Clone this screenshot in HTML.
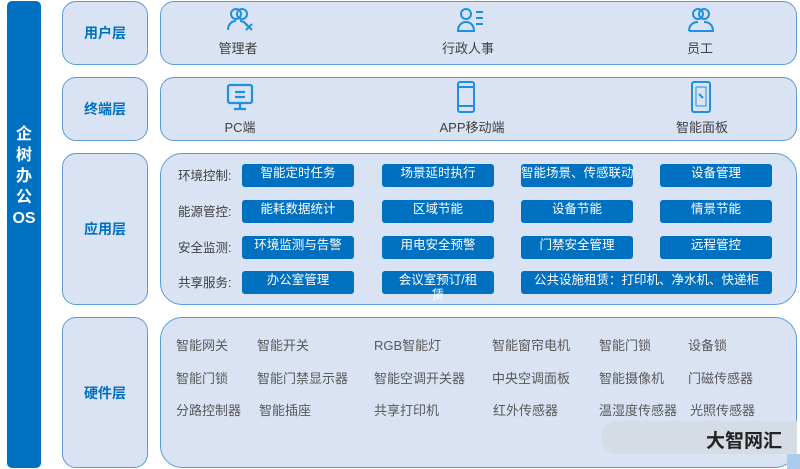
<!DOCTYPE html><html><head><meta charset="utf-8"><style>
body{margin:0;width:800px;height:469px;background:#fff;position:relative;overflow:hidden;font-family:"Liberation Sans","Noto Sans CJK SC",sans-serif}
.a{position:absolute;box-sizing:border-box}
.lb{background:#dae3f3;border:1.5px solid #5b9bd5;border-radius:14px;display:flex;align-items:center;justify-content:center;color:#0070c0;font-weight:bold;font-size:14px}
.cb{background:#dae3f3;border:1.5px solid #5b9bd5;border-radius:14px}
.bt{background:#0070c0;color:#fff;font-size:12.5px;border-radius:3px;width:112px;height:23px;text-align:center;line-height:19px;white-space:nowrap}
.rl{font-size:12.5px;color:#404040}
.hw{font-size:13px;color:#595959;white-space:nowrap}
.ic{font-size:13px;color:#404040;text-align:center;width:120px}
</style></head><body>
<div class="a" style="left:7px;top:1px;width:34px;height:467px;background:#0070c0;border-radius:5px;color:#fff;font-weight:bold;font-size:16px;text-align:center;padding-top:123px;line-height:21px">企<br>树<br>办<br>公<br>OS</div>

<div class="a lb" style="left:62px;top:1px;width:86px;height:64px">用户层</div>
<div class="a lb" style="left:62px;top:77px;width:86px;height:64px">终端层</div>
<div class="a lb" style="left:62px;top:153px;width:86px;height:152px">应用层</div>
<div class="a lb" style="left:62px;top:317px;width:86px;height:151px">硬件层</div>

<div class="a cb" style="left:160px;top:1px;width:637px;height:64px"></div>
<div class="a cb" style="left:160px;top:77px;width:637px;height:64px"></div>
<div class="a cb" style="left:160px;top:153px;width:637px;height:152px;border-radius:22px"></div>
<div class="a cb" style="left:160px;top:317px;width:637px;height:151px;border-radius:22px"></div>

<svg class="a" style="left:226px;top:6px" width="30" height="28" viewBox="0 0 30 28" fill="none" stroke="#1f8fe0" stroke-width="2"><circle cx="10" cy="8" r="5"/><circle cx="16" cy="8" r="5"/><path d="M2 24c0-6 4-9 8-9M14 15c3 0 6 2 7 5"/><path d="M20 18l6 6M26 18l-6 6"/></svg>
<svg class="a" style="left:456px;top:6px" width="30" height="28" viewBox="0 0 30 28" fill="none" stroke="#1f8fe0" stroke-width="2"><circle cx="10" cy="8" r="5"/><path d="M2 25c0-6 4-9 8-9s8 3 8 9z"/><path d="M20 6h7M20 12h7M20 18h7"/></svg>
<svg class="a" style="left:686px;top:6px" width="30" height="28" viewBox="0 0 30 28" fill="none" stroke="#1f8fe0" stroke-width="2"><circle cx="12" cy="8" r="5"/><circle cx="18" cy="8" r="5"/><path d="M3 25c0-6 4-9 9-9M18 16c5 0 9 3 9 9H3"/></svg>
<div class="a ic" style="left:178px;top:38px">管理者</div>
<div class="a ic" style="left:408px;top:38px">行政人事</div>
<div class="a ic" style="left:640px;top:38px">员工</div>

<svg class="a" style="left:226px;top:83px" width="28" height="28" viewBox="0 0 28 28" fill="none" stroke="#1f8fe0" stroke-width="2.2"><rect x="2" y="2" width="24" height="18" rx="2"/><path d="M9 9h10M9 14h10M14 20v5M8 26h12"/></svg>
<svg class="a" style="left:456px;top:81px" width="20" height="32" viewBox="0 0 20 32" fill="none" stroke="#1f8fe0" stroke-width="2"><rect x="2" y="1" width="16" height="30" rx="2"/><path d="M2 6h16M2 25h16"/></svg>
<svg class="a" style="left:690px;top:81px" width="22" height="32" viewBox="0 0 22 32" fill="none" stroke="#1f8fe0" stroke-width="2"><rect x="2" y="1" width="18" height="30" rx="2"/><path d="M6 6h10v19H6z" stroke-width="1"/><path d="M9 13l4 4"/></svg>
<div class="a ic" style="left:180px;top:117px">PC端</div>
<div class="a ic" style="left:412px;top:117px">APP移动端</div>
<div class="a ic" style="left:642px;top:117px">智能面板</div>

<div class="a rl" style="left:178px;top:165px">环境控制:</div>
<div class="a rl" style="left:178px;top:201px">能源管控:</div>
<div class="a rl" style="left:178px;top:237px">安全监测:</div>
<div class="a rl" style="left:178px;top:272px">共享服务:</div>

<div class="a bt" style="left:242px;top:164px">智能定时任务</div>
<div class="a bt" style="left:382px;top:164px">场景延时执行</div>
<div class="a bt" style="left:521px;top:164px">智能场景、传感联动</div>
<div class="a bt" style="left:660px;top:164px">设备管理</div>
<div class="a bt" style="left:242px;top:200px">能耗数据统计</div>
<div class="a bt" style="left:382px;top:200px">区域节能</div>
<div class="a bt" style="left:521px;top:200px">设备节能</div>
<div class="a bt" style="left:660px;top:200px">情景节能</div>
<div class="a bt" style="left:242px;top:236px">环境监测与告警</div>
<div class="a bt" style="left:382px;top:236px">用电安全预警</div>
<div class="a bt" style="left:521px;top:236px">门禁安全管理</div>
<div class="a bt" style="left:660px;top:236px">远程管控</div>
<div class="a bt" style="left:242px;top:271px">办公室管理</div>
<div class="a bt" style="left:382px;top:271px;overflow:visible">会议室预订/租<div style="margin-top:-4px">赁</div></div>
<div class="a bt" style="left:521px;top:271px;width:251px">公共设施租赁：打印机、净水机、快递柜</div>

<div class="a hw" style="left:176px;top:335px">智能网关</div>
<div class="a hw" style="left:257px;top:335px">智能开关</div>
<div class="a hw" style="left:374px;top:335px">RGB智能灯</div>
<div class="a hw" style="left:492px;top:335px">智能窗帘电机</div>
<div class="a hw" style="left:599px;top:335px">智能门锁</div>
<div class="a hw" style="left:688px;top:335px">设备锁</div>
<div class="a hw" style="left:176px;top:368px">智能门锁</div>
<div class="a hw" style="left:257px;top:368px">智能门禁显示器</div>
<div class="a hw" style="left:374px;top:368px">智能空调开关器</div>
<div class="a hw" style="left:492px;top:368px">中央空调面板</div>
<div class="a hw" style="left:599px;top:368px">智能摄像机</div>
<div class="a hw" style="left:688px;top:368px">门磁传感器</div>
<div class="a hw" style="left:176px;top:400px">分路控制器</div>
<div class="a hw" style="left:259px;top:400px">智能插座</div>
<div class="a hw" style="left:374px;top:400px">共享打印机</div>
<div class="a hw" style="left:493px;top:400px">红外传感器</div>
<div class="a hw" style="left:599px;top:400px">温湿度传感器</div>
<div class="a hw" style="left:690px;top:400px">光照传感器</div>

<div class="a" style="left:601px;top:421px;width:196px;height:33px;background:#d6dce6;border-radius:16px 0 0 16px"></div>
<div class="a" style="left:706px;top:426px;font-size:19px;font-weight:bold;color:#222">大智网汇</div>
<div class="a" style="left:787px;top:454px;width:13px;height:15px;background:#a9cdeb"></div>
</body></html>
